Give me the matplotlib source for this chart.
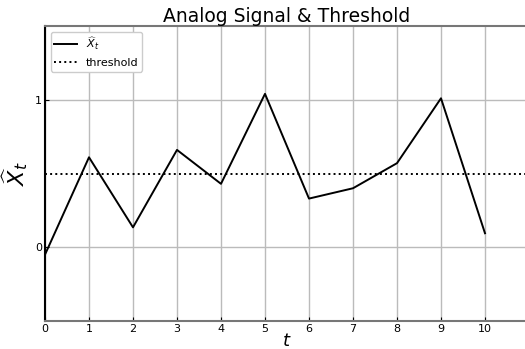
import numpy as np
import matplotlib
matplotlib.use("Agg")
import matplotlib.pyplot as plt

# signal samples
t = [0, 1, 2, 3, 4, 5, 6, 7, 8, 9, 10]
x_hat = [-0.05, 0.61, 0.135, 0.66, 0.43, 1.04, 0.33, 0.40, 0.57, 1.01, 0.095]
threshold = 0.5
xticks = [0, 1, 2, 3, 4, 5, 6, 7, 8, 9, 10]
yticks = [0, 1]

fig = plt.figure(figsize=(5.25, 3.49), dpi=100)
ax = fig.add_axes([0.0857, 0.0802, 0.9219, 0.8453])

ax.plot(t, x_hat, color='black', lw=1.4, label=r'$\widehat{X}_t$')
ax.axhline(threshold, color='black', ls=':', lw=1.4, label='threshold')

ax.set_xlim(0, 11)
ax.set_ylim(-0.5, 1.5)
ax.set_xticks(xticks)
ax.set_yticks(yticks)
ax.tick_params(direction='in', labelsize=8, length=3, pad=2)
ax.grid(True, color='#bbbbbb', lw=1)
ax.set_axisbelow(True)

ax.spines['left'].set_color('black')
ax.spines['bottom'].set_color('#777777')
ax.spines['top'].set_color('#777777')
ax.spines['right'].set_visible(False)
for s in ['left', 'bottom', 'top']:
    ax.spines[s].set_linewidth(1.5)

ax.set_title('Analog Signal & Threshold', fontsize=13.5, pad=3)
ax.set_xlabel(r'$t$', fontsize=13, labelpad=-1)
ax.set_ylabel(r'$\widehat{X}_t$', fontsize=16, labelpad=4)
ax.legend(loc='upper left', fontsize=8, handlelength=2.0, borderaxespad=0.5,
          borderpad=0.35, fancybox=True, framealpha=1)

fig.savefig('out.png', dpi=100)
